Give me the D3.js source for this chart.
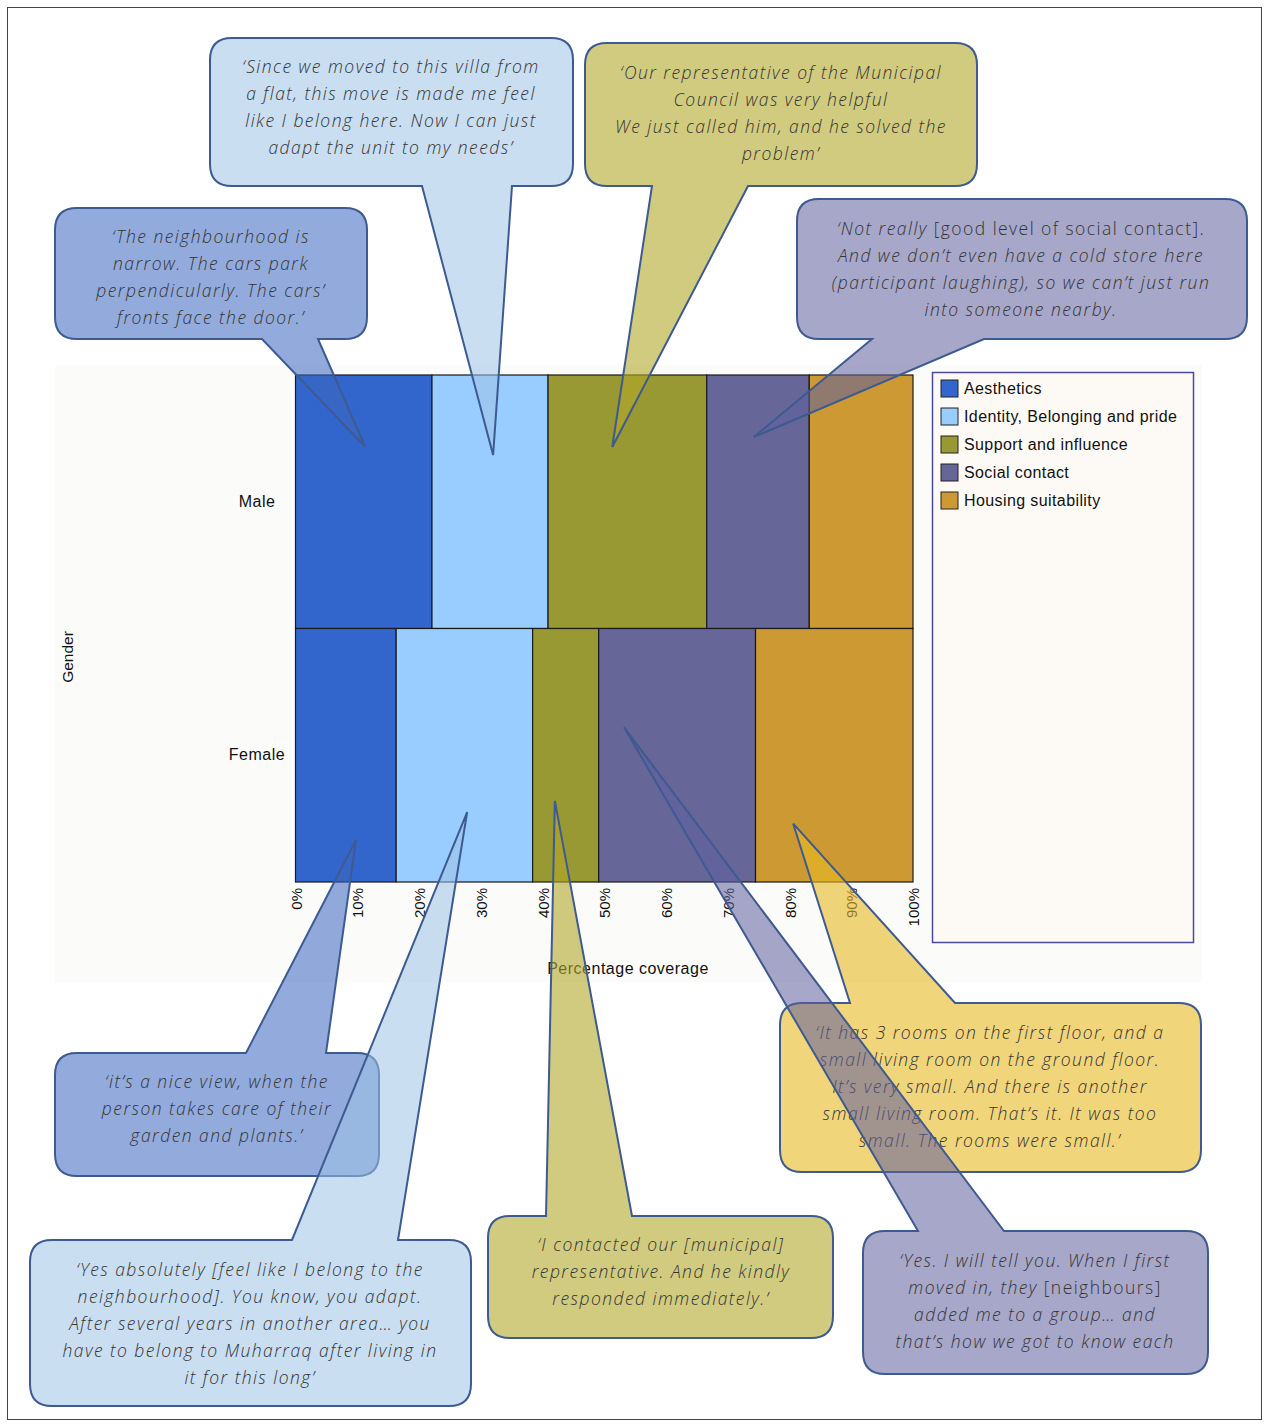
<!DOCTYPE html>
<html><head><meta charset="utf-8">
<script src="https://cdn.jsdelivr.net/npm/d3@7"></script>
<style>
body{margin:0;background:#fff;}
svg{display:block;}
</style></head>
<body><svg id="chart" width="1265" height="1426"></svg>
<script>
// ---------- data ----------
const categories = ["Aesthetics","Identity, Belonging and pride","Support and influence","Social contact","Housing suitability"];
const genders = ["Male","Female"];
const maleValues = [22.1, 18.8, 25.7, 16.6, 16.8];
const femaleValues = [16.3, 22.1, 10.7, 25.4, 25.5];
const tickValues = [0,10,20,30,40,50,60,70,80,90,100];
const tickLabels = ["0%","10%","20%","30%","40%","50%","60%","70%","80%","90%","100%"];
const quoteCategory = [0,1,2,3,0,1,2,4,3];
const quoteGender   = ["Male","Male","Male","Male","Female","Female","Female","Female","Female"];
const quotePointAt  = [11.3, 32.0, 51.3, 74.2, 9.8, 27.8, 42.0, 80.6, 53.2]; // % along axis where the pointer lands
const quotes = [
  [["‘The neighbourhood is"],["narrow. The cars park"],["perpendicularly. The cars’"],["fronts face the door.’"]],
  [["‘Since we moved to this villa from"],["a flat, this move is made me feel"],["like I belong here. Now I can just"],["adapt the unit to my needs’"]],
  [["‘Our representative of the Municipal"],["Council was very helpful"],["We just called him, and he solved the"],["problem’"]],
  [["‘Not really",""," [good level of social contact]."],["And we don’t even have a cold store here"],["(participant laughing), so we can’t just run"],["into someone nearby."]],
  [["‘it’s a nice view, when the"],["person takes care of their"],["garden and plants.’"]],
  [["‘Yes absolutely [feel like I belong to the"],["neighbourhood]. You know, you adapt."],["After several years in another area… you"],["have to belong to Muharraq after living in"],["it for this long’"]],
  [["‘I contacted our [municipal]"],["representative. And he kindly"],["responded immediately.’"]],
  [["‘It has 3 rooms on the first floor, and a"],["small living room on the ground floor."],["It’s very small. And there is another"],["small living room. That’s it. It was too"],["small. The rooms were small.’"]],
  [["‘Yes. I will tell you. When I first"],["moved in, they",""," [neighbours]"],["added me to a group… and"],["that’s how we got to know each"]]
];

// ---------- style / layout ----------
const barColors = ["#3366cc","#99ccff","#999933","#666699","#cc9933"];
const calloutFill = ["#3a66c0","#9dc3e6","#b3a92a","#5f5f9f","#e8b923"];
const calloutOpacity = [0.55,0.55,0.6,0.55,0.6];
const calloutLayout = [
  {box:[55,208,367,339], side:"bottom", base:[262,318], frac:0.284, tx:211, ty:236},
  {box:[210,38,573,186], side:"bottom", base:[422,512], frac:0.316, tx:391, ty:66},
  {box:[585,43,977,186], side:"bottom", base:[652,748], frac:0.284, tx:781, ty:72},
  {box:[797,199,1247,339], side:"bottom", base:[872,984], frac:0.245, tx:1021, ty:228},
  {box:[55,1053,379,1176], side:"top", base:[246,326], frac:0.834, tx:217, ty:1081},
  {box:[30,1240,471,1406], side:"top", base:[292,398], frac:0.724, tx:250, ty:1269},
  {box:[488,1216,833,1338], side:"top", base:[546,632], frac:0.68, tx:661, ty:1244},
  {box:[780,1003,1201,1172], side:"top", base:[850,955], frac:0.77, tx:990, ty:1032},
  {box:[863,1231,1208,1374], side:"top", base:[918,1004], frac:0.39, tx:1035, ty:1260}
];
const labelFont = "Arial, 'Liberation Sans', sans-serif";

const svg = d3.select("#chart");
const x = d3.scaleLinear().domain([0,100]).range([295.5,913]);
const y = d3.scaleBand().domain(genders).range([375,882]).padding(0);

// outer frame
svg.append("rect").attr("x",7.5).attr("y",7.5).attr("width",1254).attr("height",1412)
  .attr("fill","#fff").attr("stroke","#444").attr("stroke-width",1);
// chart background
svg.append("rect").attr("x",55).attr("y",365).attr("width",1147).attr("height",617).attr("fill","#fbfbfa");

// bars
const rows = genders.map((g,i)=>{
  const vals = i===0?maleValues:femaleValues;
  let acc=0;
  return vals.map((v,k)=>{const s=acc; acc+=v; return {g, k, start:s, end:acc};});
}).flat();
svg.append("g").selectAll("rect").data(rows).join("rect")
  .attr("x",d=>x(d.start)).attr("y",d=>y(d.g))
  .attr("width",d=>x(d.end)-x(d.start)).attr("height",y.bandwidth())
  .attr("fill",d=>barColors[d.k]).attr("stroke","#1a1a1a").attr("stroke-width",1.2);

// x axis tick labels
const xAxis = d3.axisBottom(x).tickValues(tickValues).tickFormat((d,i)=>tickLabels[i]).tickSize(0);
const gx = svg.append("g").attr("transform","translate(0,882)").call(xAxis);
gx.select(".domain").remove();
gx.selectAll("text").attr("font-family",labelFont).attr("font-size",15).attr("fill","#111")
  .attr("text-anchor","end").attr("dy",null).attr("y",null)
  .attr("dominant-baseline","central")
  .attr("transform","translate(0,6) rotate(-90)");

// y axis labels
const yAxis = d3.axisLeft(y).tickSize(0);
const gy = svg.append("g").attr("transform","translate(257,0)").call(yAxis);
gy.select(".domain").remove();
gy.selectAll("text").attr("font-family",labelFont).attr("font-size",16).attr("letter-spacing",0.5)
  .attr("fill","#111").attr("x",0).attr("text-anchor","middle");

svg.append("text").attr("transform","translate(67,657) rotate(-90)").attr("text-anchor","middle")
  .attr("dominant-baseline","central").attr("font-family",labelFont).attr("font-size",15.5).attr("fill","#111").text("Gender");
svg.append("text").attr("x",628).attr("y",968).attr("text-anchor","middle")
  .attr("dominant-baseline","central").attr("font-family",labelFont).attr("font-size",16).attr("letter-spacing",0.5).attr("fill","#111").text("Percentage coverage");

// legend
svg.append("rect").attr("x",932.5).attr("y",372.5).attr("width",261).attr("height",570)
  .attr("fill","#fdfaf5").attr("stroke","#4b4b9c").attr("stroke-width",1.5);
const leg = svg.append("g").selectAll("g").data(categories).join("g")
  .attr("transform",(d,i)=>`translate(941,${380+i*28})`);
leg.append("rect").attr("width",17).attr("height",17).attr("fill",(d,i)=>barColors[i]).attr("stroke","#222").attr("stroke-width",1);
leg.append("text").attr("x",23).attr("y",8.5).attr("dominant-baseline","central")
  .attr("font-family",labelFont).attr("font-size",16).attr("letter-spacing",0.4).attr("fill","#111").text(d=>d);

// callouts
function calloutPath(L, tip){
  const [x0,y0,x1,y1]=L.box, r=22, [b0,b1]=L.base, [tx,ty]=tip;
  if(L.side==="bottom"){
    return `M${x0+r},${y0} H${x1-r} Q${x1},${y0} ${x1},${y0+r} V${y1-r} Q${x1},${y1} ${x1-r},${y1} H${b1} L${tx},${ty} L${b0},${y1} H${x0+r} Q${x0},${y1} ${x0},${y1-r} V${y0+r} Q${x0},${y0} ${x0+r},${y0} Z`;
  }
  return `M${x0+r},${y0} H${b0} L${tx},${ty} L${b1},${y0} H${x1-r} Q${x1},${y0} ${x1},${y0+r} V${y1-r} Q${x1},${y1} ${x1-r},${y1} H${x0+r} Q${x0},${y1} ${x0},${y1-r} V${y0+r} Q${x0},${y0} ${x0+r},${y0} Z`;
}
const cg = svg.append("g");
quotes.forEach((lines,i)=>{
  const L = calloutLayout[i];
  const c = quoteCategory[i];
  const tip = [x(quotePointAt[i]), y(quoteGender[i]) + L.frac*y.bandwidth()];
  const g = cg.append("g");
  g.append("path").attr("d",calloutPath(L,tip))
    .attr("fill",calloutFill[c]).attr("fill-opacity",calloutOpacity[c])
    .attr("stroke","#3d5a91").attr("stroke-width",2).attr("stroke-linejoin","miter");
  const t = g.append("text").attr("font-family","'Open Sans', Lato, sans-serif").attr("font-size",17.5)
    .attr("font-weight",300).attr("letter-spacing",1.45)
    .attr("fill","#343434").attr("text-anchor","middle");
  lines.forEach((parts,j)=>{
    const ln = t.append("tspan").attr("x",L.tx).attr("y",L.ty+j*27).attr("dominant-baseline","central");
    ln.append("tspan").attr("font-style","italic").text(parts[0]);
    if(parts.length>2) ln.append("tspan").attr("font-style","normal").text(parts[2]);
  });
});
</script></body></html>
